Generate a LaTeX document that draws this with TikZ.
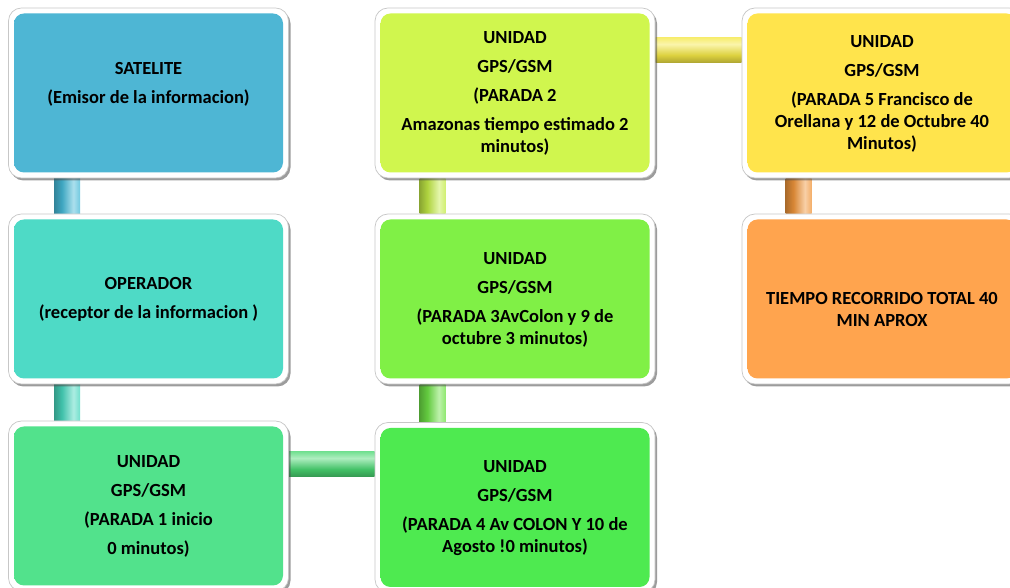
\documentclass[tikz,border=0pt]{standalone}
\usepackage{fontspec}
\setmainfont{Carlito}
\usetikzlibrary{shadows,calc}
\pgfdeclarelayer{bg}
\pgfdeclarelayer{back}
\pgfsetlayers{bg,back,main}
\definecolor{csat}{RGB}{78,182,212}
\definecolor{cop}{RGB}{78,218,198}
\definecolor{cpa}{RGB}{82,226,140}
\definecolor{cpd}{RGB}{78,234,80}
\definecolor{cpc}{RGB}{128,240,70}
\definecolor{cpb}{RGB}{208,246,78}
\definecolor{cpe}{RGB}{255,228,76}
\definecolor{ctot}{RGB}{255,164,78}
\definecolor{bsat}{RGB}{70,185,215}
\definecolor{bop}{RGB}{72,215,190}
\definecolor{bpb}{RGB}{195,235,70}
\definecolor{bpc}{RGB}{110,225,70}
\definecolor{bpe}{RGB}{240,150,60}
\definecolor{bhy}{RGB}{245,232,70}
\definecolor{bhg}{RGB}{75,215,115}
\colorlet{boxc}{csat}
\colorlet{barc}{bsat}
\pgfdeclareverticalshading[boxc]{boxsh}{100bp}{color(0bp)=(boxc!88!black); color(4bp)=(boxc!94!black); color(10bp)=(boxc); color(88bp)=(boxc); color(96bp)=(boxc!80!white); color(100bp)=(boxc!80!white)}
\pgfdeclarehorizontalshading[barc]{vbarsh}{100bp}{color(0bp)=(barc!45!black); color(20bp)=(barc!65!black); color(40bp)=(barc!90!black); color(62bp)=(barc!45!white); color(80bp)=(barc!90!white); color(100bp)=(barc)}
\pgfdeclareverticalshading[barc]{hbarsh}{100bp}{color(0bp)=(barc!45!black); color(20bp)=(barc!65!black); color(40bp)=(barc!90!black); color(62bp)=(barc!45!white); color(80bp)=(barc!90!white); color(100bp)=(barc!90!black)}
\tikzset{
  boxframe/.style={rectangle, rounded corners=13pt, minimum width=280pt, minimum height=170pt,
    draw=black!22, line width=0.7pt, fill=white, inner sep=0pt,
    drop shadow={shadow xshift=2pt, shadow yshift=-2.5pt, opacity=0.55, fill=black!70},
    path picture={\colorlet{boxc}{#1}\path[shading=boxsh, rounded corners=10pt]
      ($(path picture bounding box.south west)+(5.5,5.5)$) rectangle ($(path picture bounding box.north east)+(-5.5,-5.5)$);}},
  boxtext/.style={font=\bfseries\fontsize{18.5}{22}\selectfont, align=center, text=black},
  vbar/.style={/utils/exec={\colorlet{barc}{#1}}, shading=vbarsh},
  hbar/.style={/utils/exec={\colorlet{barc}{#1}}, shading=hbarsh},
}
\begin{document}
\begin{tikzpicture}[x=1pt,y=1pt]
\useasboundingbox (0,0) rectangle (1010,588);
\begin{pgfonlayer}{bg}
\fill[white] (0,0) rectangle (1010,588);
\end{pgfonlayer}
% boxes
\node[boxframe=csat] (sat) at (148.5,495) {};
\node[boxframe=cop]  (op)  at (148.5,289) {};
\node[boxframe=cpa]  (pa)  at (148.5,82) {};
\node[boxframe=cpb]  (pb)  at (515,495) {};
\node[boxframe=cpc]  (pc)  at (515,289) {};
\node[boxframe=cpd]  (pd)  at (515,80.5) {};
\node[boxframe=cpe]  (pe)  at (882,495) {};
\node[boxframe=ctot] (tot) at (882,289) {};
% connectors
\begin{pgfonlayer}{back}
\path[vbar=bsat] ($(sat.south west)+(46,0)$) rectangle ($(op.north west)+(72,0)$);
\path[vbar=bop]  ($(op.south west)+(46,0)$) rectangle ($(pa.north west)+(72,0)$);
\path[vbar=bpb]  ($(pb.south west)+(45,0)$) rectangle ($(pc.north west)+(71,0)$);
\path[vbar=bpc]  ($(pc.south west)+(45,0)$) rectangle ($(pd.north west)+(71,0)$);
\path[vbar=bpe]  ($(pe.south west)+(44,0)$) rectangle ($(tot.north west)+(70,0)$);
\path[hbar=bhy]  ($(pb.north east)+(0,-30)$) rectangle ($(pe.north west)+(0,-55)$);
\path[hbar=bhg]  ($(pa.north east)+(0,-31)$) rectangle ($(pd.north west)+(0,-54.5)$);
\end{pgfonlayer}
% texts
\node[boxtext] (tsat) at ($(sat.center)+(0,8.5)$) {SATELITE\\[7pt](Emisor de la informacion)};
\node[boxtext] (top) at (op.center) {OPERADOR\\[7pt](receptor de la informacion )};
\node[boxtext] (tpa) at (pa.center) {UNIDAD\\[7pt]GPS/GSM\\[7pt](PARADA 1 inicio\\[7pt]0 minutos)};
\node[boxtext] (tpb) at ($(pb.center)+(0,-0.5)$) {UNIDAD\\[7pt]GPS/GSM\\[7pt](PARADA 2\\[7pt]Amazonas tiempo estimado 2\\minutos)};
\node[boxtext] (tpc) at ($(pc.center)+(0,-1)$) {UNIDAD\\[7pt]GPS/GSM\\[7pt](PARADA 3AvColon y 9 de\\octubre 3 minutos)};
\node[boxtext] (tpd) at ($(pd.center)+(0,-1)$) {UNIDAD\\[7pt]GPS/GSM\\[7pt](PARADA 4 Av COLON Y 10 de\\Agosto !0 minutos)};
\node[boxtext] (tpe) at ($(pe.center)+(0,-0.5)$) {UNIDAD\\[7pt]GPS/GSM\\[7pt](PARADA 5 Francisco de\\Orellana y 12 de Octubre 40\\Minutos)};
\node[boxtext] (ttot) at ($(tot.center)+(0,-11)$) {TIEMPO RECORRIDO TOTAL 40\\MIN APROX};
\end{tikzpicture}
\end{document}
